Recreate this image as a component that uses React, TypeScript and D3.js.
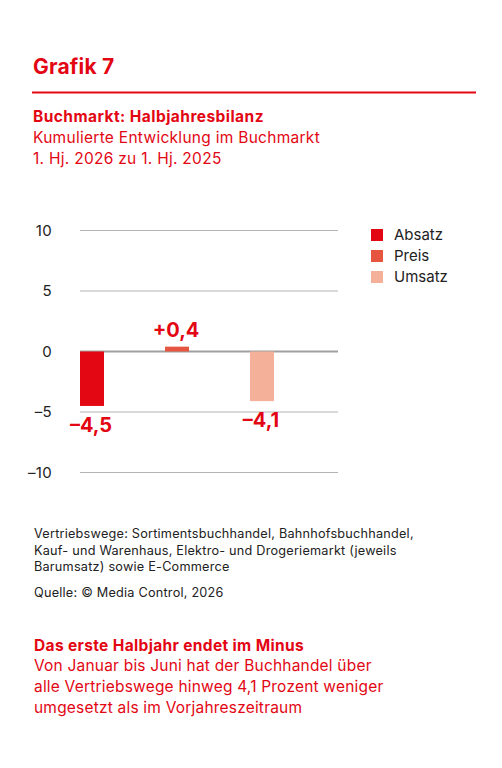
import React, { useEffect, useRef } from "react";
import * as d3 from "d3";

const categories = ["Absatz", "Preis", "Umsatz"];
const values = [-4.5, 0.4, -4.1];
const labels = ["–4,5", "+0,4", "–4,1"];
const colors = ["#e30613", "#e5553f", "#f5b09a"];
const yTicks = [10, 5, 0, -5, -10];
const yTickLabels = ["10", "5", "0", "–5", "–10"];

const RED = "#e30613";
const FONT = "Inter, 'Liberation Sans', Arial, sans-serif";

export default function App() {
  const ref = useRef<SVGSVGElement>(null);

  useEffect(() => {
    document.body.style.margin = "0";
    const svg = d3.select(ref.current);
    svg.selectAll("*").remove();

    const text = (x: number, y: number, s: string, size: number, weight: number, fill: string, anchor = "start", ls = 0) =>
      svg.append("text").attr("x", x).attr("y", y).attr("font-family", FONT).attr("font-size", size)
        .attr("font-weight", weight).attr("fill", fill).attr("text-anchor", anchor)
        .attr("letter-spacing", ls).text(s);

    // Header
    text(33, 74, "Grafik 7", 21, 700, RED, "start", 0.2);
    svg.append("line").attr("x1", 32).attr("x2", 476).attr("y1", 92.5).attr("y2", 92.5)
      .attr("stroke", RED).attr("stroke-width", 2);
    text(33, 122, "Buchmarkt: Halbjahresbilanz", 15.5, 700, RED, "start", 0.45);
    text(33, 143, "Kumulierte Entwicklung im Buchmarkt", 15.5, 400, RED, "start", 0.28);
    text(33, 164, "1. Hj. 2026 zu 1. Hj. 2025", 15.5, 400, RED, "start", 0.28);

    // Chart
    const y = d3.scaleLinear().domain([-10, 10]).range([472.5, 230.5]);
    const x = d3.scaleBand<string>().domain(categories).range([80, 335]).padding(0);
    const barW = 24;

    yTicks.forEach((t, i) => {
      svg.append("line").attr("x1", 80).attr("x2", 338).attr("y1", y(t)).attr("y2", y(t))
        .attr("stroke", t === 0 ? "#a0a0a0" : "#b4b4b4").attr("stroke-width", t === 0 ? 2 : 1);
      text(52, y(t) + 5, yTickLabels[i], 15, 400, "#222", "end", 0.3);
    });

    categories.forEach((c, i) => {
      const v = values[i];
      const x0 = x(c)!;
      svg.append("rect").attr("x", x0).attr("width", barW)
        .attr("y", y(Math.max(0, v))).attr("height", Math.abs(y(v) - y(0)))
        .attr("fill", colors[i]);
      const ly = v >= 0 ? y(v) - 10 : y(v) + 26;
      text(x0 + barW / 2 - 1, ly, labels[i], 20, 700, RED, "middle");
    });

    // Legend
    categories.forEach((c, i) => {
      svg.append("rect").attr("x", 371).attr("y", 229 + i * 21).attr("width", 12).attr("height", 12)
        .attr("fill", colors[i]);
      text(394, 240 + i * 21, c, 15, 400, "#222");
    });

    // Footnotes
    const foot = [
      "Vertriebswege: Sortimentsbuchhandel, Bahnhofsbuchhandel,",
      "Kauf- und Warenhaus, Elektro- und Drogeriemarkt (jeweils",
      "Barumsatz) sowie E-Commerce",
    ];
    foot.forEach((s, i) => text(34, 538 + i * 16.5, s, 12.7, 400, "#222", "start", 0.22));
    text(34, 597, "Quelle: © Media Control, 2026", 12.7, 400, "#222", "start", 0.22);

    text(34, 651, "Das erste Halbjahr endet im Minus", 15.5, 700, RED, "start", 0.35);
    const body = [
      "Von Januar bis Juni hat der Buchhandel über",
      "alle Vertriebswege hinweg 4,1 Prozent weniger",
      "umgesetzt als im Vorjahreszeitraum",
    ];
    body.forEach((s, i) => text(34, 671 + i * 21, s, 15.5, 400, RED, "start", 0.2));
  }, []);

  return <svg ref={ref} width={502} height={768} style={{ display: "block", background: "#fff" }} />;
}
